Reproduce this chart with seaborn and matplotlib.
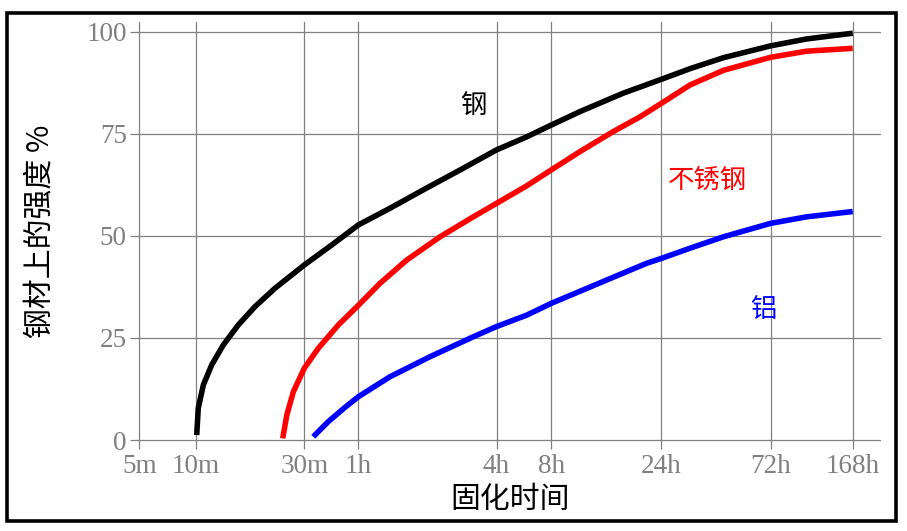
import matplotlib
matplotlib.use('Agg')
import matplotlib.pyplot as plt
from matplotlib.patches import Rectangle
import seaborn as sns
import pandas as pd
import numpy as np

# 数据 (时间单位: 小时, 强度 %)
steel_h = [0.1687, 0.1714, 0.1804, 0.1963, 0.2207, 0.2567, 0.304, 0.372, 0.5, 0.711, 1.0, 1.374,
           1.918, 2.78, 4, 5.86, 8, 10.66, 16.4, 24, 32, 44.8, 72, 104.5, 168]
steel_v = [1.2, 7.8, 13.5, 18.4, 23.3, 28.2, 32.7, 37.2, 42.9, 47.8, 52.7, 56.8,
           61.3, 66.2, 71.1, 74.3, 77.2, 80.5, 85.0, 88.4, 91.0, 93.7, 96.6, 98.3, 99.7]

stainless_h = [0.402, 0.419, 0.4475, 0.5, 0.599, 0.774, 1.0, 1.243, 1.625, 2.27, 3.17, 4,
               5.86, 8, 10.66, 14.86, 19.4, 24, 32, 44.8, 72, 104.5, 168]
stainless_v = [0.4, 6.1, 11.8, 17.6, 22.5, 28.2, 33.0, 38.4, 44.1, 49.8, 54.7, 58.0,
               62.3, 66.2, 70.7, 75.6, 79.2, 82.5, 87.0, 90.6, 93.8, 95.3, 96.0]

alu_h = [0.561, 0.68, 0.843, 1.0, 1.374, 2.05, 3.17, 4, 5.86, 8, 13.9, 20.7, 24, 32, 44.8, 72, 104.5, 168]
alu_v = [0.8, 4.5, 8.0, 10.6, 15.5, 20.4, 25.3, 27.8, 30.6, 33.5, 39.2, 43.3, 44.5, 47.0, 49.8, 53.1, 54.7, 56.0]

materials = ['钢', '不锈钢', '铝']
colors = ['black', 'red', 'blue']

tick_minutes = [5, 10, 30, 60, 240, 480, 1440, 4320, 10080]
tick_labels = ['5m', '10m', '30m', '1h', '4h', '8h', '24h', '72h', '168h']
y_ticks = [0, 25, 50, 75, 100]

# 标签位置 (小时, %)
label_pos = [(3.16, 81.7), (38.3, 63.6), (67, 31.9)]

df = pd.concat([
    pd.DataFrame({'hours': steel_h, 'strength': steel_v, 'material': materials[0]}),
    pd.DataFrame({'hours': stainless_h, 'strength': stainless_v, 'material': materials[1]}),
    pd.DataFrame({'hours': alu_h, 'strength': alu_v, 'material': materials[2]}),
])

# 时间轴: 刻度之间按对数插值的自定义刻度
tick_px = [139.3, 195.5, 304.3, 358.3, 496.5, 551.3, 661.3, 770.6, 852.7]
anc_log = [-1.0] + list(np.log10(tick_minutes)) + [5.0]
anc_px = [139.3 - (np.log10(5) + 1) * 186] + tick_px + [852.7 + (5 - np.log10(10080)) * 223]

def fwd(h):
    h = np.asarray(h, dtype=float)
    return np.interp(np.log10(np.clip(h * 60, 1e-3, None)), anc_log, anc_px)

def inv(p):
    return 10 ** np.interp(np.asarray(p, dtype=float), anc_px, anc_log) / 60

sns.set_style('white')
plt.rcParams['font.family'] = ['Noto Sans CJK SC', 'DejaVu Sans']

fig = plt.figure(figsize=(9.07, 5.31), dpi=100)
W, H = 907, 531
ax = fig.add_axes([139.3 / W, (H - 440) / H, (880 - 139.3) / W, (440 - 22) / H])

sns.lineplot(data=df, x='hours', y='strength', hue='material', palette=colors,
             hue_order=materials, estimator=None, sort=False, legend=False,
             linewidth=4.0, solid_capstyle='butt', solid_joinstyle='round', ax=ax, zorder=3)

ax.set_xscale('function', functions=(fwd, inv))
ax.set_xlim(5 / 60, float(inv(880)))
ax.set_ylim(0, 102.45)

ax.set_xticks([m / 60 for m in tick_minutes])
ax.set_xticklabels(tick_labels)
ax.set_yticks(y_ticks)
ax.minorticks_off()

ax.grid(True, color='#808080', linewidth=0.9, zorder=0)
for gl in ax.get_xgridlines() + ax.get_ygridlines():
    gl.set_clip_on(False)
for s in ax.spines.values():
    s.set_visible(False)
ax.tick_params(axis='both', direction='out', length=6.8, width=0.9, color='#808080',
               labelcolor='#808080', labelsize=19.5, left=True, bottom=True)
ax.tick_params(axis='y', pad=2.2)
ax.tick_params(axis='x', pad=3.5)
for lab in ax.get_xticklabels() + ax.get_yticklabels():
    lab.set_family('Liberation Serif')

ax.set_xlabel('固化时间', fontsize=21.5, color='black', va='center')
ax.xaxis.set_label_coords(0.5, -0.142)
ax.set_ylabel('钢材上的强度 %', fontsize=21.5, color='black', va='center')
ax.yaxis.set_label_coords(-0.134, 0.5)

for name, c, (px, py) in zip(materials, colors, label_pos):
    ax.text(px, py, name, color=c, fontsize=19, fontweight='light', ha='center', va='center')

fig.patches.append(Rectangle((6.7 / W, (H - 521) / H), (896.3 - 6.7) / W, (521 - 13.3) / H,
                             transform=fig.transFigure, fill=False, edgecolor='black',
                             linewidth=2.6, zorder=10))

fig.savefig('out.png', dpi=100)
